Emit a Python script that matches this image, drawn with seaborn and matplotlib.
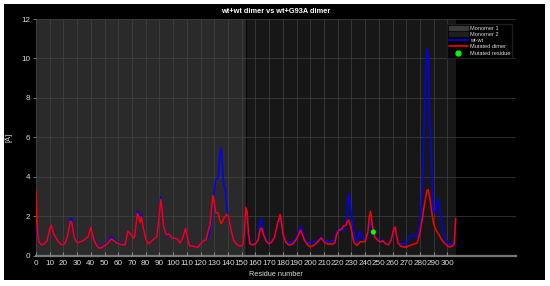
import matplotlib
matplotlib.use('Agg')
import matplotlib.pyplot as plt
import matplotlib.patches as mpatches
from matplotlib.lines import Line2D
import pandas as pd
import seaborn as sns

sns.set_style('dark')
plt.rcParams['font.family'] = ['Liberation Sans', 'DejaVu Sans']

# residue positions
residues = [0, 1, 2, 4, 6, 8, 10, 11, 13, 15, 17, 19, 21, 23, 25, 26, 28, 30, 32, 34,
            36, 38, 40, 42, 44, 46, 48, 50, 52, 54, 55, 57, 59, 61, 63, 65, 66, 67, 69, 71,
            72, 73, 74, 75, 76, 77, 78, 80, 82, 84, 86, 88, 89, 91, 92, 93, 95, 97, 99, 101,
            103, 105, 107, 109, 111, 112, 114, 116, 118, 120, 122, 124, 125, 127, 129, 130, 131, 133, 134, 135,
            136, 137, 138, 139, 140, 141, 142, 144, 146, 148, 150, 151, 152, 153, 154, 155, 156, 158, 160, 162,
            163, 164, 165, 166, 168, 170, 172, 174, 176, 178, 179, 180, 182, 184, 186, 188, 190, 192, 193, 194,
            196, 198, 200, 202, 204, 206, 208, 210, 212, 214, 216, 218, 219, 221, 223, 224, 226, 227, 228, 229,
            230, 231, 232, 234, 236, 237, 238, 240, 242, 243, 244, 245, 246, 247, 249, 251, 253, 255, 257, 259,
            261, 262, 263, 264, 266, 268, 270, 272, 274, 276, 278, 280, 282, 283, 284, 285, 286, 287, 288, 289,
            290, 291, 292, 293, 294, 295, 297, 299, 301, 303, 305, 306]

wt_wt = [1.6, 0.9, 0.65, 0.55, 0.6, 0.75, 1.35, 1.55, 1.1, 0.85, 0.65, 0.55, 0.6, 1.0, 1.85, 1.9, 0.95, 0.68, 0.72, 0.75,
         0.85, 0.98, 1.45, 0.9, 0.6, 0.45, 0.45, 0.55, 0.65, 0.9, 0.95, 0.8, 0.7, 0.65, 0.55, 0.55, 0.9, 1.25, 1.1, 0.9,
         1.0, 1.6, 2.25, 2.15, 2.05, 2.05, 1.55, 0.85, 0.6, 0.72, 0.85, 0.95, 1.6, 3.0, 2.4, 1.6, 1.0, 1.05, 0.9, 0.85,
         0.85, 0.7, 0.9, 1.38, 0.8, 0.55, 0.5, 0.48, 0.45, 0.6, 0.75, 0.78, 0.85, 1.3, 2.6, 3.3, 3.85, 4.0, 5.1, 5.45,
         4.5, 3.55, 3.4, 2.5, 2.0, 1.6, 1.4, 0.8, 0.6, 0.5, 0.5, 0.6, 1.2, 2.2, 1.9, 1.0, 0.6, 0.55, 0.65, 0.9,
         1.6, 1.9, 1.6, 1.2, 0.8, 0.65, 0.72, 0.95, 1.6, 1.95, 1.6, 1.1, 0.75, 0.65, 0.65, 0.75, 0.95, 1.3, 1.5, 1.25,
         0.85, 0.65, 0.65, 0.7, 0.7, 0.8, 0.95, 0.75, 0.75, 0.72, 0.75, 0.8, 1.2, 1.35, 1.35, 1.25, 1.6, 2.3, 3.15, 2.6,
         2.2, 1.4, 1.0, 0.72, 1.25, 1.05, 0.82, 0.85, 1.1, 1.6, 1.7, 1.5, 1.2, 1.0, 0.85, 0.75, 0.8, 0.62, 0.58, 0.8,
         1.35, 1.3, 0.95, 0.65, 0.6, 0.6, 0.65, 0.95, 1.05, 1.0, 0.95, 1.6, 4.0, 6.5, 9.0, 10.5, 10.0, 7.0, 5.8, 3.5,
         2.2, 2.2, 2.5, 2.9, 2.5, 2.1, 1.1, 0.8, 0.58, 0.55, 0.7, 1.9]

mutated = [3.3, 1.2, 0.7, 0.55, 0.6, 0.75, 1.35, 1.55, 1.1, 0.85, 0.65, 0.55, 0.6, 1.0, 1.75, 1.7, 0.9, 0.66, 0.7, 0.75,
           0.85, 0.96, 1.45, 0.85, 0.55, 0.38, 0.42, 0.52, 0.6, 0.8, 0.85, 0.75, 0.65, 0.6, 0.55, 0.55, 0.9, 1.25, 1.1, 0.88,
           1.0, 1.6, 2.15, 1.95, 1.68, 1.95, 1.5, 0.85, 0.6, 0.72, 0.85, 0.95, 1.5, 2.85, 2.3, 1.5, 1.05, 1.1, 0.9, 0.88,
           0.85, 0.65, 0.9, 1.38, 0.75, 0.5, 0.5, 0.45, 0.43, 0.6, 0.75, 0.8, 1.1, 1.6, 3.05, 2.7, 2.2, 2.15, 1.8, 1.62,
           1.75, 1.9, 2.0, 2.1, 2.05, 1.7, 1.4, 0.8, 0.6, 0.5, 0.5, 0.6, 1.3, 2.45, 2.2, 1.1, 0.6, 0.55, 0.6, 0.8,
           1.2, 1.4, 1.35, 1.05, 0.72, 0.6, 0.7, 0.95, 1.6, 2.1, 1.7, 1.1, 0.7, 0.55, 0.55, 0.65, 0.85, 1.15, 1.3, 1.1,
           0.75, 0.55, 0.45, 0.5, 0.6, 0.75, 0.9, 0.7, 0.6, 0.6, 0.58, 0.65, 1.05, 1.3, 1.35, 1.5, 1.55, 1.75, 1.8, 1.6,
           1.3, 0.9, 0.65, 0.52, 0.68, 0.72, 0.7, 0.72, 1.2, 2.0, 2.25, 1.7, 1.2, 0.95, 0.8, 0.7, 0.75, 0.6, 0.55, 0.8,
           1.4, 1.45, 1.0, 0.65, 0.48, 0.45, 0.42, 0.5, 0.55, 0.6, 0.65, 1.2, 2.0, 2.5, 2.9, 3.3, 3.35, 3.0, 2.5, 2.0,
           1.6, 1.4, 1.25, 1.15, 1.05, 0.9, 0.7, 0.55, 0.45, 0.45, 0.6, 1.9]

monomer_1 = (0, 153)
monomer_2 = (153, 306)
mutated_residue = [246]
mutated_value = [1.2]

df = pd.DataFrame({'residue': residues, 'wt-wt': wt_wt, 'Mutated dimer': mutated})
df_mut = pd.DataFrame({'residue': mutated_residue, 'value': mutated_value})

fig = plt.figure(figsize=(5.5, 2.86), dpi=100, facecolor='white')
# black panel behind everything
fig.add_artist(mpatches.Rectangle((4 / 550, 6 / 286), 541 / 550, 276 / 286,
                                  transform=fig.transFigure, facecolor='black',
                                  edgecolor='none', zorder=-5))
ax = fig.add_axes([36 / 550, 30.3 / 286, 480 / 550, 236.7 / 286])
ax.set_zorder(2)
ax.set_facecolor('black')

ax.axvspan(*monomer_1, color='#2a2a2a', zorder=0, lw=0)
ax.axvspan(*monomer_2, color='#171717', zorder=0, lw=0)
ax.axvline(monomer_1[1], color='#0c0c0c', lw=1.0, zorder=0.5)

sns.lineplot(data=df, x='residue', y='wt-wt', color='#0000ff', lw=1.1, ax=ax, zorder=3)
sns.lineplot(data=df, x='residue', y='Mutated dimer', color='#ff0000', lw=1.1, ax=ax, zorder=4)
sns.scatterplot(data=df_mut, x='residue', y='value', color='#00ff00', s=14, edgecolor='none', ax=ax, zorder=5)

ax.set_xlim(0, 350)
ax.set_ylim(0, 12)
ax.set_xticks(range(0, 301, 10))
ax.set_yticks(range(0, 13, 2))
ax.grid(True, color='#4a4a4a', lw=0.6, alpha=0.7)
ax.set_axisbelow(False)
for g in ax.get_xgridlines() + ax.get_ygridlines():
    g.set_zorder(1)

for s in ['top', 'right', 'left']:
    ax.spines[s].set_visible(False)
ax.spines['bottom'].set_color('#777777')
ax.spines['bottom'].set_linewidth(1.6)
ax.tick_params(axis='x', direction='in', length=3, width=0.8, color='#888888',
               labelcolor='#dddddd', labelsize=5.9, pad=3, bottom=True)
ax.tick_params(axis='y', direction='out', length=2, width=0.6, color='#888888',
               labelcolor='#dddddd', labelsize=5.9, pad=2, left=True)

ax.set_xlabel('Residue number', color='#dddddd', fontsize=5.3, labelpad=3)
ax.set_ylabel('[Å]', color='#dddddd', fontsize=5.3, labelpad=6)
ax.set_title('wt+wt dimer vs wt+G93A dimer', color='white', fontsize=5.3,
             fontweight='bold', pad=4)

handles = [mpatches.Patch(color='#3a3a3a', label='Monomer 1'),
           mpatches.Patch(color='#1e1e1e', label='Monomer 2'),
           Line2D([], [], color='#0000ff', lw=1.2, label='wt-wt'),
           Line2D([], [], color='#ff0000', lw=1.2, label='Mutated dimer'),
           Line2D([], [], color='#00ff00', marker='o', ls='none', markersize=3.5, label='Mutated residue')]
leg = ax.legend(handles=handles, loc='upper right', bbox_to_anchor=(0.992, 0.979),
                borderaxespad=0, fontsize=4.1, frameon=True, facecolor='black',
                edgecolor='#1e1e1e', framealpha=1, fancybox=False,
                handlelength=3.4, handletextpad=0.3, labelspacing=0.2, borderpad=0.35)
for t in leg.get_texts():
    t.set_color('#dddddd')

fig.savefig('out.png', dpi=100, facecolor='white')
